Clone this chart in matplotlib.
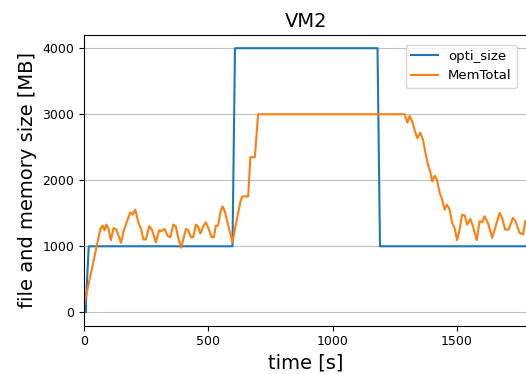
import numpy as np
import matplotlib
matplotlib.use("Agg")
import matplotlib.pyplot as plt

# --- data ---
opti_t = [0, 8, 8, 19, 597, 607, 1180, 1190, 1781]
opti_size = [0, 0, 150, 1000, 1000, 4000, 4000, 1000, 1000]

mem_t = [0, 66, 75, 82, 90, 99, 108, 119, 130, 149, 159, 173, 186, 195, 206,
         219, 230, 239, 249, 262, 273, 289, 302, 310, 324, 337, 347, 359, 369,
         379, 390, 399, 410, 419, 430, 439, 450, 459, 468, 479, 490, 502, 513,
         522, 530, 539, 549, 557, 566, 584, 597, 609, 620, 629, 637, 660, 669,
         687, 700, 1289, 1300, 1309, 1320, 1329, 1340, 1352, 1363, 1373, 1383,
         1392, 1400, 1410, 1419, 1430, 1440, 1450, 1459, 1470, 1480, 1490, 1500,
         1510, 1520, 1531, 1540, 1553, 1563, 1579, 1590, 1601, 1610, 1624, 1641,
         1655, 1671, 1681, 1693, 1707, 1724, 1735, 1751, 1765, 1774]
mem_total = [100, 1265, 1313, 1242, 1328, 1262, 1092, 1278, 1253, 1051, 1228,
             1379, 1514, 1479, 1555, 1354, 1253, 1102, 1102, 1303, 1253, 1061,
             1243, 1228, 1263, 1152, 1137, 1328, 1303, 1127, 977, 1102, 1263,
             1243, 1137, 1137, 1328, 1293, 1192, 1303, 1363, 1253, 1137, 1137,
             1313, 1313, 1529, 1604, 1529, 1253, 1061, 1303, 1505, 1680, 1755,
             1755, 2350, 2350, 3000, 3000, 2873, 2974, 2888, 2762, 2637, 2722,
             2611, 2410, 2234, 2133, 1982, 2068, 2008, 1807, 1706, 1555, 1630,
             1555, 1354, 1278, 1092, 1253, 1479, 1464, 1328, 1414, 1313, 1092,
             1379, 1363, 1454, 1354, 1127, 1303, 1505, 1429, 1253, 1253, 1429,
             1379, 1203, 1178, 1379]

fig = plt.figure(figsize=(5.26, 3.74), dpi=100)
# the right spine sits just past the image edge, as in the reference
ax = fig.add_axes([84 / 526, 1 - 325.5 / 374, (528 - 84) / 526, (325.5 - 35) / 374])

ax.plot(opti_t, opti_size, color='C0', linewidth=1.5, label='opti_size')
ax.plot(mem_t, mem_total, color='C1', linewidth=1.5, label='MemTotal')

ax.set_xlim(0, 1785)
ax.set_xticks([0, 500, 1000, 1500])
ax.set_yticks([0, 1000, 2000, 3000, 4000])
ax.tick_params(labelsize=9)
ax.grid(True, axis='y', color='#c0c0c0')
ax.set_title('VM2', fontsize=14)
ax.set_xlabel('time [s]', fontsize=14)
ax.set_ylabel('file and memory size [MB]', fontsize=14)
ax.legend(loc='upper right', fontsize=9.5, bbox_to_anchor=(0.99, 0.99))

fig.savefig('out.png', dpi=100)
